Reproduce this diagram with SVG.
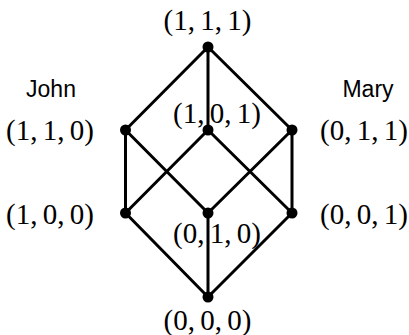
<svg xmlns="http://www.w3.org/2000/svg" width="409" height="335" viewBox="0 0 409 335">
<style>
.e{stroke:#000;stroke-width:3;stroke-linecap:round;fill:none}
.d{fill:#000}
.c{font-family:"Liberation Serif","Times New Roman",serif;font-size:29px;fill:#000;text-anchor:middle;word-spacing:-2px}
.n{font-family:"Liberation Sans",Arial,sans-serif;font-size:23px;fill:#000;text-anchor:middle}
</style>
<rect width="409" height="335" fill="#fff"/>
<g id="connectors">
<line class="e" x1="208" y1="47" x2="125.5" y2="130"/>
<line class="e" x1="208" y1="47" x2="208" y2="130"/>
<line class="e" x1="208" y1="47" x2="292" y2="130"/>
<line class="e" x1="125.5" y1="130" x2="125.5" y2="213"/>
<line class="e" x1="125.5" y1="130" x2="208" y2="213"/>
<line class="e" x1="208" y1="130" x2="125.5" y2="213"/>
<line class="e" x1="208" y1="130" x2="292" y2="213"/>
<line class="e" x1="292" y1="130" x2="208" y2="213"/>
<line class="e" x1="292" y1="130" x2="292" y2="213"/>
<line class="e" x1="125.5" y1="213" x2="208" y2="297"/>
<line class="e" x1="208" y1="213" x2="208" y2="297"/>
<line class="e" x1="292" y1="213" x2="208" y2="297"/>
</g>
<g id="n111"><circle class="d" cx="208" cy="47" r="5.5"/><text class="c" x="207.5" y="30">(1, 1, 1)</text></g>
<g id="n110"><circle class="d" cx="125.5" cy="130" r="5.5"/><text class="n" x="51" y="97">John</text><text class="c" x="50" y="140">(1, 1, 0)</text></g>
<g id="n101"><circle class="d" cx="208" cy="130" r="5.5"/><text class="c" x="217" y="123">(1, 0, 1)</text></g>
<g id="n011"><circle class="d" cx="292" cy="130" r="5.5"/><text class="n" x="368" y="97">Mary</text><text class="c" x="364" y="140">(0, 1, 1)</text></g>
<g id="n100"><circle class="d" cx="125.5" cy="213" r="5.5"/><text class="c" x="50" y="224">(1, 0, 0)</text></g>
<g id="n010"><circle class="d" cx="208" cy="213" r="5.5"/><text class="c" x="217" y="243">(0, 1, 0)</text></g>
<g id="n001"><circle class="d" cx="292" cy="213" r="5.5"/><text class="c" x="364" y="224">(0, 0, 1)</text></g>
<g id="n000"><circle class="d" cx="208" cy="297" r="5.5"/><text class="c" x="207.5" y="330">(0, 0, 0)</text></g>
</svg>
